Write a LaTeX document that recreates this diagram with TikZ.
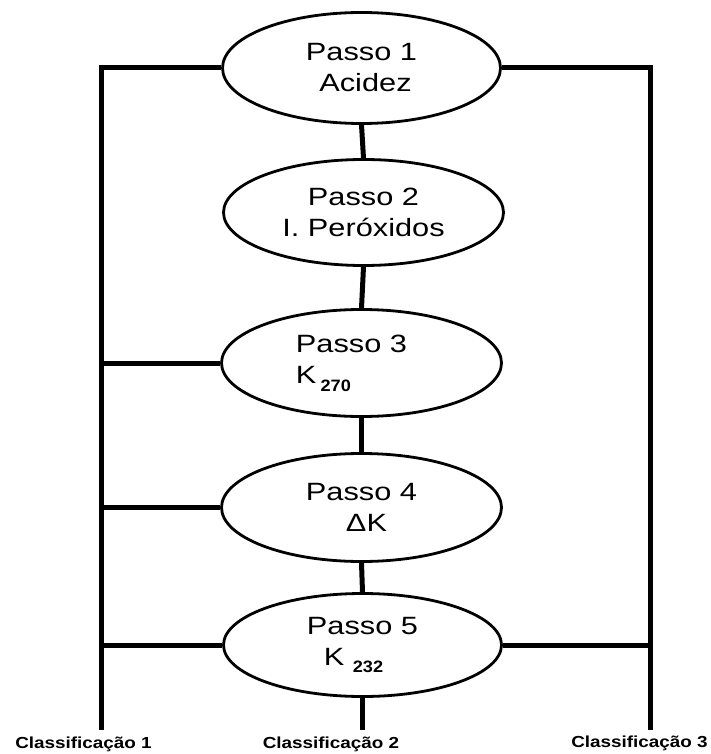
\documentclass[tikz,border=0pt]{standalone}
\usepackage{fontspec}
\setmainfont{Liberation Sans}
\newfontfamily\passofont[FakeStretch=1.23]{Liberation Sans}
\newfontfamily\lblfont[FakeStretch=1.18]{Liberation Sans}
\newfontfamily\subfont[FakeStretch=1.1]{Liberation Sans}
\usetikzlibrary{shapes.geometric}
\newcommand\subtxt[2][-8pt]{\raisebox{#1}{\subfont\bfseries\fontsize{16.5}{18}\selectfont #2}}
\begin{document}
\begin{tikzpicture}[x=1pt,y=-1pt,
  stepnode/.style={ellipse, draw, line width=2.8pt, inner sep=0pt,
    font=\passofont\fontsize{25}{31}\selectfont, align=center},
  conn/.style={line width=5pt},
  lbl/.style={font=\lblfont\bfseries\fontsize{16}{18}\selectfont, anchor=base, inner sep=0pt}]
\useasboundingbox (0,0) rectangle (710,754);
\fill[white] (0,0) rectangle (710,754);

\node[stepnode, minimum width=278pt, minimum height=111pt] (e1) at (361.5,68)
  {Passo 1\\\hspace*{8pt}Acidez};
\node[stepnode, minimum width=280pt, minimum height=106pt] (e2) at (363.5,212.5)
  {Passo 2\\I. Peróxidos};
\node[stepnode, minimum width=280pt, minimum height=107pt, align=left] (e3) at (361.5,363)
  {Passo 3\hspace*{20pt}\\K\,\subtxt{270}};
\node[stepnode, minimum width=280pt, minimum height=108pt] (e4) at (361.5,507.5)
  {Passo 4\\\hspace*{10pt}ΔK};
\node[stepnode, minimum width=278pt, minimum height=103pt] (e5) at (362.5,645)
  {Passo 5\\K\ \subtxt[-7pt]{232}\hspace*{18pt}};

\coordinate (L1) at (101.5,730);
\coordinate (C2) at (362.5,730);
\coordinate (R1) at (650,730);

\draw[conn] (e1.west) -| (L1);
\draw[conn] (e1.east) -| (R1);
\draw[conn] (e1.south) -- (e2.north);
\draw[conn] (e2.south) -- (e3.north);
\draw[conn] (e3.south) -- (e4.north);
\draw[conn] (e4.south) -- (e5.north);
\draw[conn] (e5.south) -- (C2);
\draw[conn] (e3.west) -- (e3.west -| L1);
\draw[conn] (e4.west) -- (e4.west -| L1);
\draw[conn] (e5.west) -- (e5.west -| L1);
\draw[conn] (e5.east) -- (e5.east -| R1);

\node[lbl] (l1) at (83.5,748) {Classificação 1};
\node[lbl] (l2) at (331,748) {Classificação 2};
\node[lbl] (l3) at (639.5,747) {Classificação 3};
\end{tikzpicture}
\end{document}
